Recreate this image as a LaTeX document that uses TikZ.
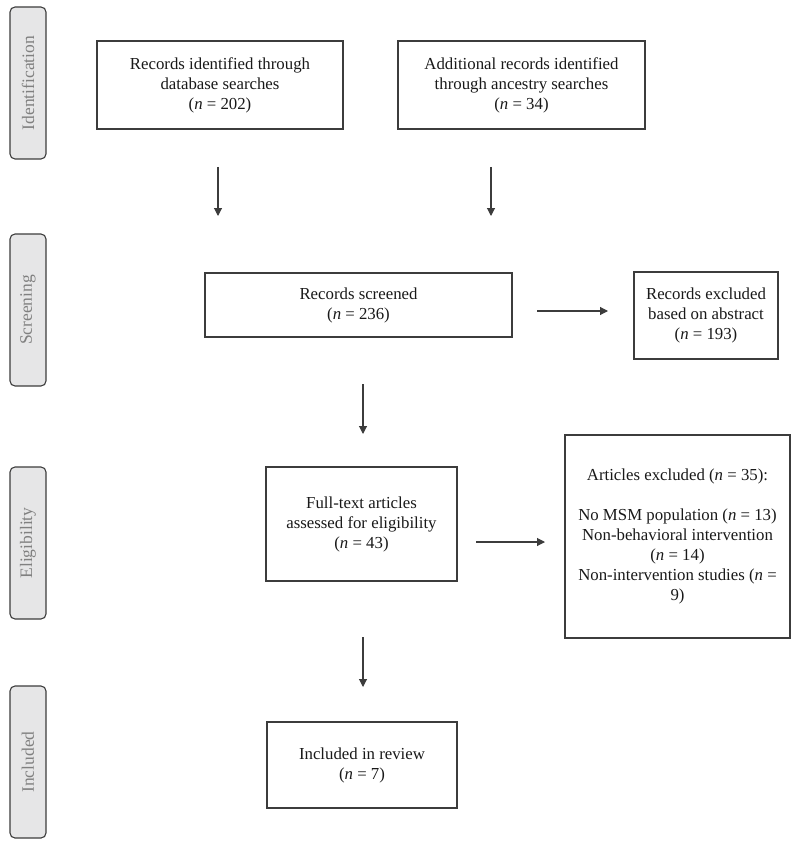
\documentclass[tikz,border=0pt]{standalone}
\usepackage{fontspec}
\setmainfont{Liberation Serif}
\usepackage{tikz}
\usetikzlibrary{arrows.meta}

\definecolor{sidefill}{HTML}{E6E6E7}
\definecolor{sidetext}{HTML}{808080}
\definecolor{boxline}{HTML}{3C3C3C}
\newcommand{\ncount}[1]{(\textit{n} = #1)}

\begin{document}
\begin{tikzpicture}[x=1pt, y=-1pt,
    flowbox/.style={draw=boxline, line width=1.1pt, align=center, inner sep=0pt,
        font=\fontsize{16.8}{20}\selectfont, text=black!90},
    phase/.style={draw=boxline, line width=1.1pt, fill=sidefill, rounded corners=5pt,
        minimum width=36pt, minimum height=152pt},
    phasetext/.style={rotate=90, text=sidetext, font=\fontsize{17.5}{20}\selectfont},
    arr/.style={draw=boxline, line width=1.1pt, -{Triangle[length=8pt, width=8pt]}}]
    \useasboundingbox (0,0) rectangle (800,845);
    % phase labels on the left
    \node[phase] (pid) at (28,83) {};
    \node[phasetext] at (pid.center) {Identification};
    \node[phase] (pscr) at (28,310) {};
    \node[phasetext] at (pscr.center) {Screening};
    \node[phase] (pel) at (28,543) {};
    \node[phasetext] at (pel.center) {Eligibility};
    \node[phase] (pinc) at (28,762) {};
    \node[phasetext] at (pinc.center) {Included};

    % boxes
    \node[flowbox, minimum width=246pt, minimum height=88pt] (database) at (220,85)
        {Records identified through\\database searches\\\ncount{202}};
    \node[flowbox, minimum width=247pt, minimum height=88pt] (ancestry) at (521.5,85)
        {Additional records identified\\through ancestry searches\\\ncount{34}};
    \node[flowbox, minimum width=307pt, minimum height=64pt] (screened) at (358.5,305)
        {Records screened\\\ncount{236}};
    \node[flowbox, minimum width=144pt, minimum height=87pt] (abstract) at (706,315.5)
        {Records excluded\\based on abstract\\\ncount{193}};
    \node[flowbox, minimum width=191pt, minimum height=114pt] (fulltext) at (361.5,524)
        {Full-text articles\\assessed for eligibility\\\ncount{43}};
    \node[flowbox, minimum width=225pt, minimum height=203pt] (excluded) at (677.5,536.5)
        {Articles excluded \ncount{35}:\\[20pt]No MSM population \ncount{13}\\Non-behavioral intervention\\\ncount{14}\\Non-intervention studies (\textit{n} =\\9)};
    \node[flowbox, minimum width=190pt, minimum height=86pt] (review) at (362,765)
        {Included in review\\\ncount{7}};

    % arrows (they float between the boxes)
    \coordinate (dbfrom) at (218,167);
    \coordinate (dbto) at (218,216);
    \coordinate (ancfrom) at (491,167);
    \coordinate (ancto) at (491,216);
    \coordinate (scrfrom) at (537,311);
    \coordinate (scrto) at (608,311);
    \coordinate (ftfrom) at (363,384);
    \coordinate (ftto) at (363,434);
    \coordinate (exfrom) at (476,542);
    \coordinate (exto) at (545,542);
    \coordinate (revfrom) at (363,637);
    \coordinate (revto) at (363,687);
    \draw[arr] (dbfrom) -- (dbto);
    \draw[arr] (ancfrom) -- (ancto);
    \draw[arr] (scrfrom) -- (scrto);
    \draw[arr] (ftfrom) -- (ftto);
    \draw[arr] (exfrom) -- (exto);
    \draw[arr] (revfrom) -- (revto);
\end{tikzpicture}
\end{document}
